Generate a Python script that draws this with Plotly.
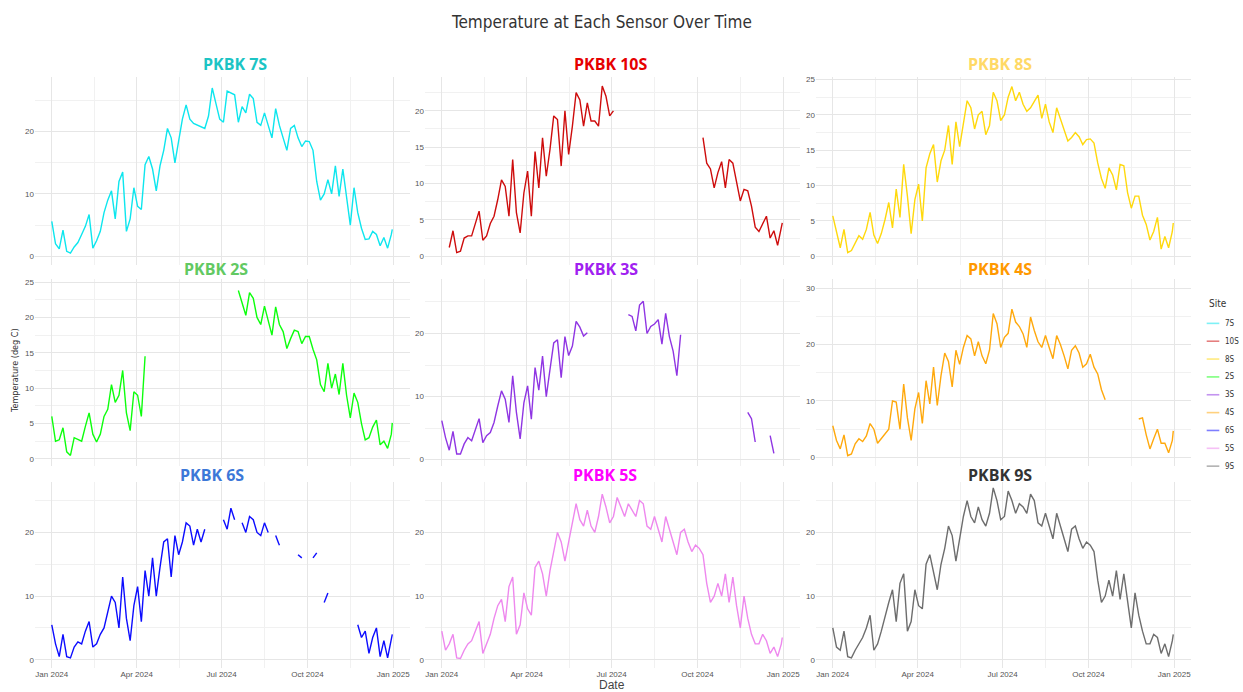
import pandas as pd
import plotly.graph_objects as go

N = None            # no reading, line is broken
G = float("nan")    # no reading, line joins across it

# one reading every 4 days through 2024, plus 31 Dec
DATES = list(pd.date_range("2024-01-01", "2024-12-30", freq="4D")) + [pd.Timestamp("2024-12-31")]

SITES = ["7S", "10S", "8S", "2S", "3S", "4S", "6S", "5S", "9S"]

T_7S = [5.6, 2.0, 1.2, 4.2, 0.8, 0.5, 1.5, 2.2, 3.5, 4.8,
        6.7, 1.3, 2.5, 4.0, 7.0, 9.0, 10.5, 6.0, 12.0, 13.5,
        4.0, 6.0, 11.0, 8.0, 7.5, 14.7, 16.0, 14.0, 10.5, 14.5,
        17.0, 20.5, 19.0, 15.0, 18.5, 22.0, 24.3, 22.0, 21.3, G,
        G, 20.5, 22.5, 27.0, 24.5, 22.0, 21.5, 26.5, G, 25.9,
        21.5, 24.0, 23.0, 26.0, 25.3, 21.5, 21.0, 23.0, 21.0, 19.0,
        23.7, 21.0, 19.0, 17.0, 20.5, 21.0, 19.0, 17.6, 18.5, 18.4,
        17.0, 12.0, 9.0, 10.0, 12.3, 10.0, 14.5, 9.6, 14.0, 9.0,
        5.0, 11.0, 7.0, 4.5, 2.7, 2.8, 4.0, 3.5, 1.7, 3.0,
        1.3, 3.5, 4.3]

T_10S = [N, N, 1.2, 3.5, 0.5, 0.7, 2.5, 2.8, 2.8, 4.6,
         6.2, 2.2, 2.8, 4.5, 5.5, 7.8, 10.5, 9.6, 5.5, 13.3,
         6.0, 3.2, 8.7, 11.7, 5.5, 14.4, 9.4, 16.3, 11.0, 14.7,
         19.3, 18.8, 12.4, 20.0, 14.0, 17.9, 22.5, 21.5, 17.9, 21.1,
         18.6, 18.6, 17.9, 23.4, 22.0, 19.3, 20.0, N, N, N,
         N, N, N, N, N, N, N, N, N, N,
         N, N, N, N, N, N, N, N, N, N,
         16.3, 12.8, 12.0, 9.4, 11.5, 13.0, 9.4, 13.3, 12.8, 10.0,
         7.6, 9.2, 9.0, 6.9, 4.0, 3.4, 4.5, 5.5, 2.5, 3.5,
         1.5, 4.0, 4.6]

T_8S = [5.7, 3.3, 1.2, 3.8, 0.5, 0.8, 1.8, 2.9, 2.4, 3.8,
        6.2, 3.0, 1.8, 3.2, 5.2, 7.6, 4.0, 9.5, 5.5, 13.0,
        8.5, 3.2, 8.0, 10.2, 5.0, 12.5, 14.5, 15.8, 10.5, 13.5,
        15.0, 18.5, 13.0, 19.0, 15.5, 18.5, 22.0, 21.0, 18.0, 20.0,
        20.5, 17.2, 18.5, 23.2, 22.0, 19.2, 20.0, 22.5, 24.0, 22.0,
        23.2, 21.5, 20.5, 21.0, 22.0, 22.8, 19.5, 21.5, 19.0, 17.5,
        21.0, 19.5, 17.8, 16.3, 16.8, 17.5, 16.9, 15.8, 16.5, 16.6,
        16.0, 13.2, 11.0, 9.6, 12.5, 11.5, 9.4, 13.0, 12.8, 9.0,
        6.8, 8.5, 8.5, 5.8, 4.5, 2.3, 3.5, 5.5, 1.0, 2.8,
        1.2, 3.5, 4.7]

T_2S = [6.0, 2.5, 2.7, 4.4, 1.0, 0.5, 3.0, 2.8, 2.5, 4.6,
        6.5, 3.5, 2.4, 3.5, 6.0, 7.0, 10.5, 8.0, 9.0, 12.5,
        6.5, 4.0, 9.5, 9.0, 6.0, 14.5, N, N, N, N,
        N, N, N, N, N, N, N, N, N, N,
        N, N, N, N, N, N, N, N, N, N,
        23.8, 22.0, 20.3, 23.5, 22.7, 20.0, 19.0, 21.6, 19.5, 17.5,
        21.5, 19.0, 18.0, 15.6, 17.0, 18.2, 18.0, 16.3, 17.3, 17.3,
        15.5, 14.0, 10.5, 9.5, 13.5, 10.0, 12.0, 9.1, 13.5, 9.0,
        5.8, 9.3, 8.0, 5.0, 2.7, 3.0, 4.5, 5.5, 2.0, 2.5,
        1.5, 3.5, 5.1]

T_3S = [6.2, 3.5, 1.5, 4.5, 0.9, 0.9, 2.5, 3.5, 3.0, 4.8,
        6.5, 2.7, 3.8, 4.3, 5.9, 8.5, 10.9, 9.6, 5.9, 13.3,
        7.5, 3.3, 9.0, 11.7, 6.4, 14.6, 11.0, 16.4, 10.0, 14.3,
        18.5, 19.0, 13.0, 19.5, 16.5, 18.0, 21.9, 21.0, 19.6, 20.1,
        N, N, N, N, N, N, N, N, N, N,
        23.0, 22.7, 20.4, 24.5, 25.1, 20.0, 21.1, 21.5, 22.2, 18.3,
        23.2, 19.5, 17.2, 13.3, 19.8, N, N, N, N, N,
        N, N, N, N, N, N, N, N, N, N,
        N, N, 7.5, 6.5, 2.8, N, N, N, 3.8, 1.0,
        N, N, N]

T_4S = [5.6, 3.0, 1.5, 4.0, 0.3, 0.6, 2.4, 3.3, 2.8, 3.8,
        6.0, 5.0, 2.5, G, G, 5.0, 10.0, 9.8, 5.0, 13.0,
        7.0, 3.0, 8.6, 11.5, 6.0, 13.6, 9.5, 16.0, 9.2, 14.5,
        18.5, 17.0, 12.5, 19.0, 16.5, 19.5, 21.6, 21.0, 18.0, 20.5,
        18.0, 16.6, 19.0, 25.5, 23.7, 19.5, 21.3, 22.0, 26.3, 24.0,
        23.2, 21.9, 19.5, 24.9, 22.5, 20.5, 19.5, 21.6, 19.5, 17.5,
        21.6, 20.0, 18.0, 15.7, 19.0, 19.8, 18.5, 16.0, 16.6, 18.3,
        16.0, 14.8, 12.0, 10.2, N, N, N, N, N, N,
        N, N, 6.8, 7.0, 4.0, 1.5, 3.3, 5.0, 2.5, 2.5,
        0.8, 3.0, 4.7]

T_6S = [5.5, 2.5, 0.5, 4.0, 0.5, 0.3, 2.0, 2.8, 2.5, 4.5,
        6.0, 2.0, 2.5, 4.0, 5.0, 7.5, 10.0, 9.0, 5.0, 13.0,
        6.5, 3.0, 8.5, 11.5, 6.0, 14.0, 10.0, 16.0, 10.0, 14.5,
        18.5, 19.0, 13.0, 19.5, 16.5, 18.5, 21.5, 21.0, 18.0, 20.5,
        18.5, 20.5, N, N, N, N, 22.0, 20.5, 23.8, 22.0,
        N, 21.5, 20.0, 22.5, 22.0, 20.0, 19.5, 21.5, 20.0, N,
        19.5, 18.0, N, N, N, N, 16.5, 16.0, N, N,
        16.0, 16.8, N, 9.0, 10.5, N, N, N, N, N,
        N, N, 5.5, 3.5, 4.5, 1.0, 3.5, 5.0, 0.5, 3.0,
        0.3, 3.0, 4.0]

T_5S = [4.5, 1.5, 2.5, 4.0, 0.3, 0.2, 1.5, 2.5, 3.0, 4.5,
        6.0, 1.0, 2.5, 4.0, 6.5, 8.5, 9.5, 6.0, 11.5, 13.0,
        4.0, 5.5, 10.5, 8.0, 7.0, 14.5, 15.5, 13.5, 10.0, 14.0,
        17.0, 20.0, 18.5, 15.5, 18.5, 21.5, 24.5, 22.0, 21.0, 23.5,
        21.0, 20.0, 22.5, 26.0, 24.0, 21.5, 22.5, 25.5, 24.0, 22.5,
        24.5, 23.5, 22.5, 25.0, 24.5, 21.0, 20.5, 22.5, 20.5, 18.5,
        22.5, 20.5, 18.5, 16.5, 20.0, 20.5, 18.5, 17.0, 18.0, 17.5,
        16.5, 12.0, 9.0, 10.0, 12.0, 10.0, 13.5, 9.0, 13.0, 8.5,
        5.0, 10.0, 6.5, 4.0, 2.5, 2.5, 4.0, 3.0, 1.0, 2.0,
        0.5, 2.5, 3.5]

T_9S = [5.0, 2.0, 1.5, 4.5, 0.5, 0.3, 1.5, 2.5, 3.5, 5.0,
        7.0, 1.5, 2.5, 4.5, 7.0, 9.0, 11.0, 6.0, 12.0, 13.5,
        4.5, 6.0, 11.0, 8.5, 8.0, 15.0, 16.5, 14.0, 11.0, 15.0,
        17.5, 21.0, 19.5, 15.5, 19.0, 22.5, 25.0, 22.5, 21.5, 24.0,
        22.0, 21.0, 23.0, 27.0, 25.0, 22.0, 22.5, 26.5, 25.0, 23.0,
        24.5, 24.0, 23.0, 26.0, 25.0, 21.5, 21.0, 23.0, 21.0, 19.0,
        23.0, 21.0, 19.0, 17.0, 20.5, 21.0, 19.0, 17.5, 18.5, 18.0,
        17.0, 12.5, 9.0, 10.0, 12.5, 10.0, 14.0, 9.5, 13.5, 9.0,
        5.0, 10.5, 7.0, 4.5, 2.5, 2.5, 4.0, 3.5, 1.0, 2.5,
        0.5, 3.0, 4.0]

SERIES = {"7S": T_7S, "10S": T_10S, "8S": T_8S, "2S": T_2S, "3S": T_3S,
          "4S": T_4S, "6S": T_6S, "5S": T_5S, "9S": T_9S}

LINE_COLORS = {"7S": "#00E5EE", "10S": "#CC0000", "8S": "#FFD700", "2S": "#00FF00",
               "3S": "#8A2BE2", "4S": "#FFA500", "6S": "#0000FF", "5S": "#EE82EE",
               "9S": "#666666"}
TITLE_COLORS = {"7S": "#1CC4C4", "10S": "#E60000", "8S": "#FFD966", "2S": "#62C962",
                "3S": "#A020F0", "4S": "#FF9900", "6S": "#3C78D8", "5S": "#FF00FF",
                "9S": "#333333"}

# ---------------- layout geometry (pixels of a 1243 x 692 page) ----------------
W, H = 1243, 692
COLS = [(35, 410), (425, 800), (816, 1191)]
ROWS = [(75.6, 263.7), (278, 465), (481.5, 668)]
TITLE_X = {"7S": 235, "10S": 611, "8S": 1000, "2S": 216, "3S": 606, "4S": 1000,
           "6S": 212, "5S": 605, "9S": 1000}
TITLE_Y = [62, 268, 474]
Y_RANGE = {"7S": [-1.39, 28.7], "10S": [-1.2, 24.6], "8S": [-1.23, 25.3],
           "2S": [-0.95, 25.4], "3S": [-0.95, 28.6], "4S": [-1.47, 31.6],
           "6S": [-1.3, 27.9], "5S": [-1.3, 27.9], "9S": [-1.3, 27.9]}
Y_DTICK = {"7S": 10, "10S": 5, "8S": 5, "2S": 5, "3S": 10, "4S": 10,
           "6S": 10, "5S": 10, "9S": 10}
X_RANGE = ["2023-12-14", "2025-01-19"]
X_MINOR = ["2024-02-15 12:00", "2024-05-16 12:00", "2024-08-16", "2024-11-16"]
LEG_X0, LEG_X1, LEG_TX = 1206.7, 1219.3, 1223.3
LEG_Y0, LEG_DY, LEG_TITLE_Y = 322.3, 17.9, 302.7

MAJ_GRID = "#E6E6E6"
MIN_GRID = "#F1F1F1"
SANS = "Liberation Sans, Arial, sans-serif"
NARROW = "Liberation Sans Narrow, DejaVu Sans Condensed, Roboto Condensed, Arial Narrow, sans-serif"
TICK_FONT = dict(family=SANS, size=8, color="#555555")

fig = go.Figure()
layout = dict(
    width=W, height=H, margin=dict(l=0, r=0, t=0, b=0),
    paper_bgcolor="white", plot_bgcolor="white", showlegend=False,
)

annotations = []
shapes = []
for k, site in enumerate(SITES):
    r, c = divmod(k, 3)
    idx = "" if k == 0 else str(k + 1)
    vals = SERIES[site]
    assert len(vals) == len(DATES), site
    xs, ys = [], []
    for d, v in zip(DATES, vals):
        if v is None:
            xs.append(d); ys.append(None)
        elif v != v:
            continue
        else:
            xs.append(d); ys.append(v)
    fig.add_trace(go.Scatter(
        x=xs, y=ys, mode="lines", name=site,
        line=dict(color=LINE_COLORS[site], width=1.4),
        xaxis="x" + idx, yaxis="y" + idx, connectgaps=False, opacity=0.95,
        hovertemplate="%{x|%d %b %Y}: %{y:.1f} °C<extra>" + site + "</extra>",
    ))
    x0, x1 = COLS[c]
    y0, y1 = ROWS[r]
    layout["xaxis" + idx] = dict(
        domain=[x0 / W, x1 / W], range=X_RANGE, type="date",
        anchor="y" + idx, tick0="2024-01-01", dtick="M3", tickformat="%b %Y",
        showticklabels=(r == 2), tickfont=TICK_FONT, ticks="",
        showgrid=True, gridcolor=MAJ_GRID, gridwidth=1, zeroline=False, showline=False,
        minor=dict(tickmode="array", tickvals=X_MINOR, showgrid=True,
                   gridcolor=MIN_GRID, gridwidth=1),
    )
    dt = Y_DTICK[site]
    layout["yaxis" + idx] = dict(
        domain=[1 - y1 / H, 1 - y0 / H], range=Y_RANGE[site], anchor="x" + idx,
        tick0=0, dtick=dt, tickfont=TICK_FONT, ticks="",
        showgrid=True, gridcolor=MAJ_GRID, gridwidth=1, zeroline=False, showline=False,
        minor=dict(tick0=0, dtick=dt / 2, showgrid=True, gridcolor=MIN_GRID, gridwidth=1),
    )
    annotations.append(dict(
        text="<b>PKBK " + site + "</b>", x=TITLE_X[site] / W, y=1 - TITLE_Y[r] / H,
        xref="paper", yref="paper", xanchor="center", yanchor="middle", showarrow=False,
        font=dict(family="Open Sans, Noto Sans, sans-serif", size=16, color=TITLE_COLORS[site]),
    ))

# legend key drawn at the right, as in the original
annotations.append(dict(
    text="Site", x=LEG_X0 / W, y=1 - LEG_TITLE_Y / H, xref="paper", yref="paper",
    xanchor="left", yanchor="middle", showarrow=False,
    font=dict(family=NARROW, size=10, color="#333333")))
for i, site in enumerate(SITES):
    yy = 1 - (LEG_Y0 + i * LEG_DY) / H
    shapes.append(dict(type="line", xref="paper", yref="paper",
                       x0=LEG_X0 / W, x1=LEG_X1 / W, y0=yy, y1=yy,
                       line=dict(color=LINE_COLORS[site], width=1.6), opacity=0.5))
    annotations.append(dict(
        text=site, x=LEG_TX / W, y=yy, xref="paper", yref="paper",
        xanchor="left", yanchor="middle", showarrow=False,
        font=dict(family=NARROW, size=8, color="#333333")))

annotations += [
    dict(text="Temperature at Each Sensor Over Time", x=601 / W, y=1 - 20 / H,
         xref="paper", yref="paper", xanchor="center", yanchor="middle", showarrow=False,
         font=dict(family=NARROW, size=17, color="#333333")),
    dict(text="Date", x=612 / W, y=-2 / H, xref="paper", yref="paper",
         xanchor="center", yanchor="bottom", showarrow=False,
         font=dict(family=SANS, size=12, color="#444444")),
    dict(text="Temperature (deg C)", x=15 / W, y=1 - 370 / H, xref="paper", yref="paper",
         xanchor="center", yanchor="middle", showarrow=False, textangle=-90,
         font=dict(family=NARROW, size=9, color="#333333")),
]
layout["annotations"] = annotations
layout["shapes"] = shapes
fig.update_layout(**layout)
fig.write_html("out.html", config={"displayModeBar": False},
               post_script="document.body.style.margin='0px';")
